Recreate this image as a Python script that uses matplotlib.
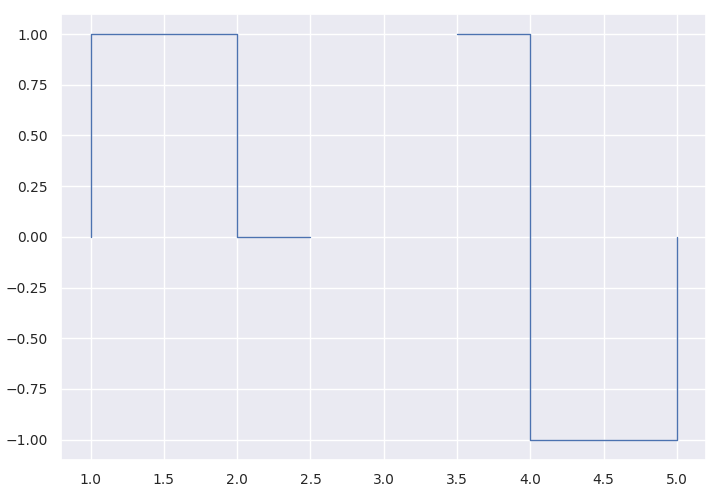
import numpy as np
import matplotlib
matplotlib.use("Agg")
import matplotlib.pyplot as plt
import seaborn as sns

sns.set_theme(style="darkgrid", rc={"xtick.labelsize": 10, "ytick.labelsize": 10})

edges = [1.0, 2.0, 2.5, 3.5, 4.0, 5.0]
values = [1.0, 0.0, np.nan, 1.0, -1.0]
baseline = 0.0

# stair path: baseline -> each value over its edge interval -> baseline
x = np.repeat(np.asarray(edges), 2)
y = np.concatenate([[baseline], np.repeat(np.asarray(values), 2), [baseline]])

fig, ax = plt.subplots(figsize=(7.2, 4.95), dpi=100)
ax.plot(x, y, color="#4c72b0", linewidth=1.0)
fig.subplots_adjust(left=0.085, right=0.981, top=0.972, bottom=0.071)
fig.savefig("out.png", dpi=100)
